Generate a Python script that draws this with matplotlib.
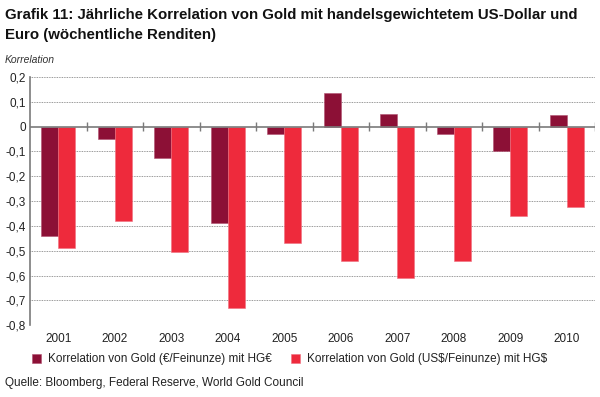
import numpy as np
import matplotlib.pyplot as plt

years = ["2001", "2002", "2003", "2004", "2005", "2006", "2007", "2008", "2009", "2010"]
gold_eur = [-0.44, -0.05, -0.125, -0.39, -0.03, 0.135, 0.05, -0.03, -0.10, 0.045]
gold_usd = [-0.49, -0.38, -0.505, -0.73, -0.47, -0.54, -0.61, -0.54, -0.36, -0.325]
yticks = [0.2, 0.1, 0, -0.1, -0.2, -0.3, -0.4, -0.5, -0.6, -0.7, -0.8]

dark = "#8c1036"
red = "#ee2a3c"
axcol = "#7a7a7a"
txt = "#222222"

plt.rcParams["font.family"] = ["Liberation Sans", "DejaVu Sans"]

fig = plt.figure(figsize=(6.0, 3.97), dpi=100)
ax = fig.add_axes([0.05, 0.181, 0.942, 0.625])

x = np.arange(len(years))
w = 0.3
ax.bar(x - w / 2, gold_eur, w, color=dark, edgecolor="#b05070", linewidth=0.4, zorder=3,
       label="Korrelation von Gold (€/Feinunze) mit HG€")
ax.bar(x + w / 2, gold_usd, w, color=red, edgecolor="#f07080", linewidth=0.4, zorder=3,
       label="Korrelation von Gold (US\\$/Feinunze) mit HG\\$")

ax.set_xlim(-0.5, len(years) - 0.5)
ax.set_ylim(-0.8, 0.2)
ax.set_yticks(yticks)
ax.set_yticklabels([("%g" % v).replace(".", ",") for v in yticks], fontsize=8.5, color=txt)
ax.set_xticks(x)
ax.set_xticklabels(years, fontsize=8.5, color=txt)
ax.tick_params(axis="x", length=0, pad=6)
ax.tick_params(axis="y", length=0, pad=3)

for v in yticks:
    if v != 0:
        ax.axhline(v, color="#777777", linestyle=(0, (1, 1)), linewidth=0.6, zorder=1)
ax.axhline(0, color=axcol, linewidth=1.2, zorder=4)
ax.vlines(x[:-1] + 0.5, -0.018, 0.018, color=axcol, linewidth=1.0, zorder=4)
ax.vlines([len(years) - 0.5], -0.018, 0.018, color=axcol, linewidth=1.0, zorder=4)

for s in ["top", "right", "bottom"]:
    ax.spines[s].set_visible(False)
ax.spines["left"].set_color(axcol)
ax.spines["left"].set_linewidth(1.2)

fig.text(0.008, 0.962, "Grafik 11: Jährliche Korrelation von Gold mit handelsgewichtetem US-Dollar und",
         fontsize=10.8, fontweight="bold", va="center", color="#111111")
fig.text(0.008, 0.912, "Euro (wöchentliche Renditen)", fontsize=10.8, fontweight="bold", va="center",
         color="#111111")
fig.text(0.008, 0.848, "Korrelation", fontsize=7.5, style="italic", color="#333333", va="center")

leg = fig.legend(loc="center left", bbox_to_anchor=(0.035, 0.095), ncol=2, frameon=False,
                 fontsize=8.5, handlelength=0.8, handleheight=0.8, columnspacing=1.6, handletextpad=0.6)
for t in leg.get_texts():
    t.set_color(txt)
fig.text(0.008, 0.035, "Quelle: Bloomberg, Federal Reserve, World Gold Council", fontsize=8.5, va="center",
         color=txt)

fig.savefig("out.png", dpi=100)
